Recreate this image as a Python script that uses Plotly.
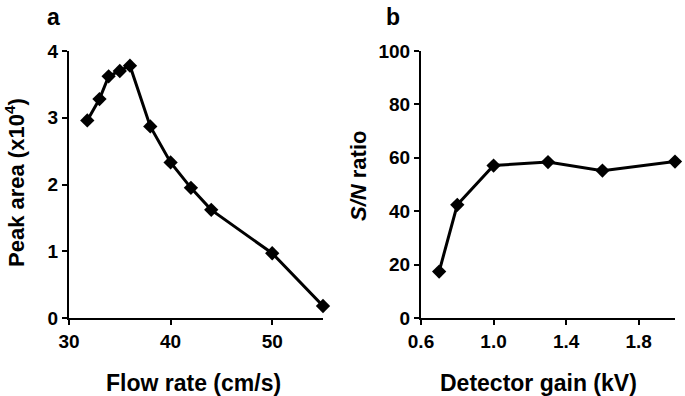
import plotly.graph_objects as go
from plotly.subplots import make_subplots

# Panel a data
flow_rate = [31.8, 33.0, 33.9, 35.0, 36.0, 38.0, 40.0, 42.0, 44.0, 50.0, 55.0]
peak_area = [2.96, 3.28, 3.62, 3.70, 3.78, 2.87, 2.33, 1.95, 1.62, 0.97, 0.18]

# Panel b data
detector_gain = [0.7, 0.8, 1.0, 1.3, 1.6, 2.0]
sn_ratio = [17.4, 42.4, 57.1, 58.4, 55.2, 58.6]

x_ticks_a = [30, 40, 50]
y_ticks_a = [0, 1, 2, 3, 4]
x_ticks_b = [0.6, 1.0, 1.4, 1.8]
x_ticklabels_b = ["0.6", "1.0", "1.4", "1.8"]
y_ticks_b = [0, 20, 40, 60, 80, 100]

W, H = 685, 396
ML, MR, MT, MB = 69, 10, 51, 78
PW = W - ML - MR
PH = H - MT - MB

def px(x):
    return (x - ML) / PW

def py(y):
    return (H - MB - y) / PH

FONT = "Liberation Sans, Arial, sans-serif"

fig = make_subplots(rows=1, cols=2)
fig.update_layout(
    xaxis=dict(domain=[0, px(323)]),
    xaxis2=dict(domain=[px(421), 1]),
)

line_style = dict(color="black", width=3)
marker_style = dict(symbol="diamond", size=11, color="black")

fig.add_trace(go.Scatter(x=flow_rate, y=peak_area, mode="lines+markers",
                         line=line_style, marker=marker_style, cliponaxis=False,
                         showlegend=False), row=1, col=1)
fig.add_trace(go.Scatter(x=detector_gain, y=sn_ratio, mode="lines+markers",
                         line=line_style, marker=marker_style, cliponaxis=False,
                         showlegend=False), row=1, col=2)

axis_common = dict(showline=True, linecolor="black", linewidth=2, ticks="outside",
                   ticklen=5, tickwidth=2, tickcolor="black", showgrid=False,
                   zeroline=False, mirror=False,
                   tickfont=dict(family=FONT, size=19, color="black", weight="bold"))

fig.update_xaxes(range=[30, 55], tickvals=x_ticks_a, row=1, col=1, **axis_common)
fig.update_yaxes(range=[0, 4], tickvals=y_ticks_a, row=1, col=1, **axis_common)
fig.update_xaxes(range=[0.6, 2.0], tickvals=x_ticks_b, ticktext=x_ticklabels_b,
                 row=1, col=2, **axis_common)
fig.update_yaxes(range=[0, 100], tickvals=y_ticks_b, row=1, col=2, **axis_common)

title_font = dict(family=FONT, size=23, color="black", weight="bold")
ytitle_font = dict(family=FONT, size=22, color="black", weight="bold")
annotations = [
    dict(text="Flow rate (cm/s)", x=px(193), y=py(383), font=title_font),
    dict(text="Detector gain (kV)", x=px(538), y=py(383), font=title_font),
    dict(text="Peak area (x10<sup>4</sup>)", x=px(15), y=py(183), textangle=-90,
         font=ytitle_font),
    dict(text="<i>S/N</i> ratio", x=px(358), y=py(176), textangle=-90,
         font=ytitle_font),
    dict(text="a", x=px(53), y=py(17), font=title_font),
    dict(text="b", x=px(393), y=py(17), font=title_font),
]
for a in annotations:
    a.update(xref="paper", yref="paper", xanchor="center", yanchor="middle",
             showarrow=False)
fig.update_layout(
    annotations=annotations,
    width=W, height=H,
    margin=dict(l=ML, r=MR, t=MT, b=MB),
    paper_bgcolor="white", plot_bgcolor="white",
)

fig.write_html("out.html", config={"displayModeBar": False},
               post_script="document.body.style.margin='0';document.body.style.padding='0';")
